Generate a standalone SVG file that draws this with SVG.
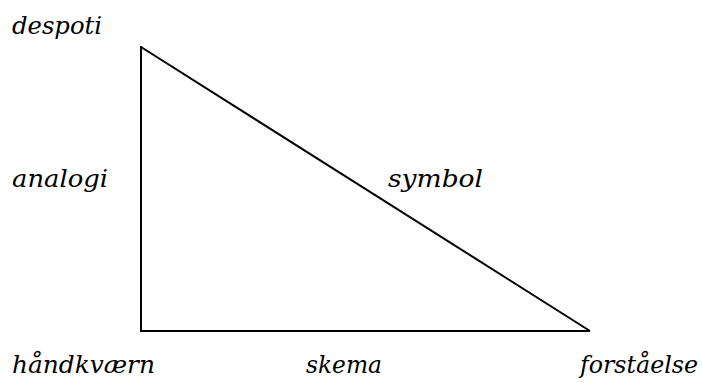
<svg xmlns="http://www.w3.org/2000/svg" width="702" height="389" viewBox="0 0 702 389">
<style>
.t{font-family:'DejaVu Serif',serif;font-style:italic;font-size:24px;fill:#000}
.e{stroke:#000;stroke-width:2;fill:none;stroke-linecap:butt}
</style>
<rect width="702" height="389" fill="#fff"/>
<g id="connectors">
<line class="e" x1="141" y1="46" x2="141" y2="332"/>
<line class="e" x1="140" y1="331" x2="590" y2="331"/>
<line class="e" x1="141" y1="47" x2="590" y2="331"/>
</g>
<g id="node-despoti"><text class="t" x="12" y="34" textLength="90" lengthAdjust="spacingAndGlyphs">despoti</text></g>
<g id="node-handkvaern"><text class="t" x="12" y="373" textLength="143" lengthAdjust="spacingAndGlyphs">håndkværn</text></g>
<g id="node-forstaelse"><text class="t" x="580" y="373" textLength="118" lengthAdjust="spacingAndGlyphs">forståelse</text></g>
<g id="label-analogi"><text class="t" x="12" y="187" textLength="96" lengthAdjust="spacingAndGlyphs">analogi</text></g>
<g id="label-symbol"><text class="t" x="388" y="187" textLength="95" lengthAdjust="spacingAndGlyphs">symbol</text></g>
<g id="label-skema"><text class="t" x="306" y="373" textLength="76" lengthAdjust="spacingAndGlyphs">skema</text></g>
</svg>
